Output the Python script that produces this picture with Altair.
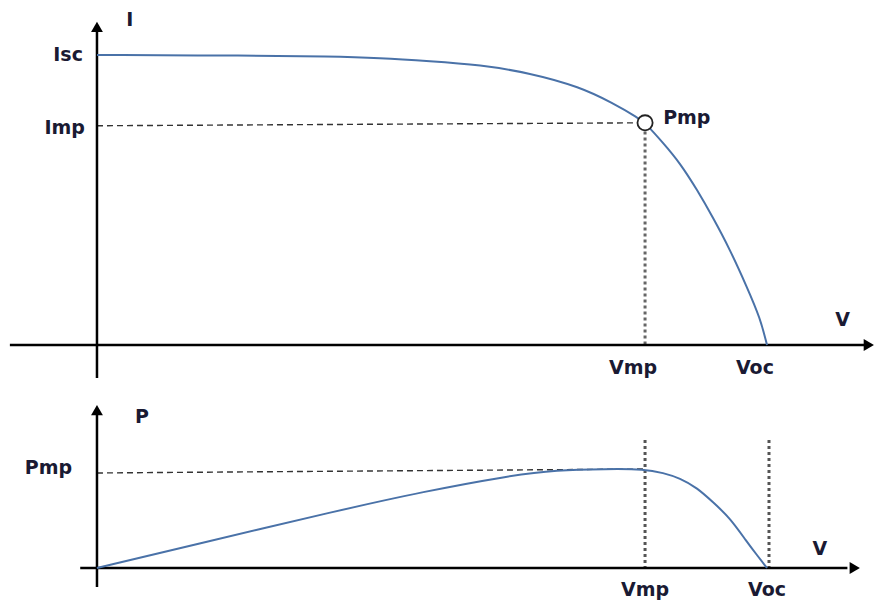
import altair as alt
import pandas as pd

# I-V curve (V normalised to Voc, I normalised to Isc)
iv_v = [0.0, 0.228, 0.348, 0.422, 0.497, 0.572, 0.646, 0.721, 0.770, 0.808, 0.818, 0.845, 0.870, 0.896, 0.919, 0.945, 0.970, 0.990, 1.0]
iv_i = [1.0, 0.998, 0.995, 0.990, 0.979, 0.966, 0.938, 0.890, 0.834, 0.783, 0.766, 0.697, 0.628, 0.534, 0.441, 0.328, 0.200, 0.092, 0.0]

# P-V curve (P normalised to Pmp)
pv_v = [0.0, 0.139, 0.363, 0.487, 0.612, 0.687, 0.760, 0.818, 0.845, 0.870, 0.896, 0.919, 0.945, 0.970, 0.985, 1.0]
pv_p = [0.0, 0.225, 0.586, 0.771, 0.929, 0.990, 1.0, 1.0, 0.960, 0.909, 0.808, 0.667, 0.505, 0.263, 0.131, 0.0]

VMP = 0.818
VOC = 1.0
IMP = 0.766
PMP = 1.0

top_labels = ["I", "Isc", "Imp", "Pmp", "V", "Vmp", "Voc"]
top_lab_v = [0.049, -0.021, -0.018, 0.845, 1.113, 0.80, 0.982]
top_lab_i = [1.121, 1.0, 0.748, 0.783, 0.086, -0.079, -0.079]
top_lab_align = ["center", "right", "right", "left", "center", "center", "center"]

bot_labels = ["P", "Pmp", "V", "Vmp", "Voc"]
bot_lab_v = [0.067, -0.037, 1.079, 0.818, 1.0]
bot_lab_p = [1.525, 1.01, 0.192, -0.222, -0.222]
bot_lab_align = ["center", "right", "center", "center", "center"]

W = 867
XS = alt.Scale(domain=[-0.1328, 1.1612], nice=False, zero=False)
Y1 = alt.Scale(domain=[-0.1655, 1.162], nice=False, zero=False)
Y2 = alt.Scale(domain=[-0.283, 1.768], nice=False, zero=False)

CURVE = "#4a72a8"
TXT = "#1a1a33"
FONT = "DejaVu Sans"


def segs(rows):
    return pd.DataFrame(rows, columns=["x", "y", "x2", "y2"])


def rule(df, ys, color="black", width=2.5, dash=None):
    kw = dict(color=color, strokeWidth=width)
    if dash is not None:
        kw["strokeDash"] = dash
    return alt.Chart(df).mark_rule(**kw).encode(
        x=alt.X("x:Q", scale=XS, axis=None),
        y=alt.Y("y:Q", scale=ys, axis=None),
        x2="x2:Q",
        y2="y2:Q",
    )


def arrow(df, ys, shape):
    return alt.Chart(df).mark_point(shape=shape, filled=True, color="black", size=140, opacity=1).encode(
        x=alt.X("x:Q", scale=XS, axis=None),
        y=alt.Y("y:Q", scale=ys, axis=None),
    )


def labels(names, xs, ys_vals, aligns, ys):
    parts = []
    for a in ["left", "center", "right"]:
        rows = [(n, x, y) for n, x, y, al in zip(names, xs, ys_vals, aligns) if al == a]
        if not rows:
            continue
        df = pd.DataFrame(rows, columns=["t", "x", "y"])
        parts.append(
            alt.Chart(df).mark_text(align=a, baseline="middle", font=FONT, fontSize=19,
                                    fontWeight="bold", color=TXT).encode(
                x=alt.X("x:Q", scale=XS, axis=None),
                y=alt.Y("y:Q", scale=ys, axis=None),
                text="t:N",
            )
        )
    return parts


# ---------------- top panel ----------------
iv_df = pd.DataFrame({"v": iv_v, "i": iv_i})
top_curve = alt.Chart(iv_df).mark_line(color=CURVE, strokeWidth=2, interpolate="basis").encode(
    x=alt.X("v:Q", scale=XS, axis=None),
    y=alt.Y("i:Q", scale=Y1, axis=None),
)
top_axes = rule(segs([(0, -0.114, 0, 1.09), (-0.13, 0, 1.145, 0)]), Y1)
top_arrows = [
    arrow(pd.DataFrame({"x": [0], "y": [1.097]}), Y1, "triangle-up"),
    arrow(pd.DataFrame({"x": [1.152], "y": [0]}), Y1, "triangle-right"),
]
top_dash = rule(segs([(0, IMP - 0.01, VMP - 0.012, IMP)]), Y1, color="#333333", width=1.4, dash=[6, 4])
top_dot = rule(segs([(VMP, IMP - 0.03, VMP, 0)]), Y1, color="#666666", width=3, dash=[3, 3])
pmp_pt = alt.Chart(pd.DataFrame({"v": [VMP], "i": [IMP]})).mark_point(
    shape="circle", filled=True, fill="white", stroke="#222222", strokeWidth=1.8, size=230, opacity=1
).encode(
    x=alt.X("v:Q", scale=XS, axis=None),
    y=alt.Y("i:Q", scale=Y1, axis=None),
)
top = alt.layer(
    top_dash, top_dot, top_axes, *top_arrows, top_curve, pmp_pt,
    *labels(top_labels, top_lab_v, top_lab_i, top_lab_align, Y1)
).properties(width=W, height=385)

# ---------------- bottom panel ----------------
pv_df = pd.DataFrame({"v": pv_v, "p": pv_p})
bot_curve = alt.Chart(pv_df).mark_line(color=CURVE, strokeWidth=2, interpolate="basis").encode(
    x=alt.X("v:Q", scale=XS, axis=None),
    y=alt.Y("p:Q", scale=Y2, axis=None),
)
bot_axes = rule(segs([(0, -0.192, 0, 1.585), (-0.025, 0, 1.12, 0)]), Y2)
bot_arrows = [
    arrow(pd.DataFrame({"x": [0], "y": [1.596]}), Y2, "triangle-up"),
    arrow(pd.DataFrame({"x": [1.131], "y": [0]}), Y2, "triangle-right"),
]
bot_dash = rule(segs([(0, PMP - 0.04, VMP, PMP)]), Y2, color="#333333", width=1.4, dash=[6, 4])
bot_dot = rule(segs([(VMP, 1.293, VMP, 0), (VOC + 0.003, 1.293, VOC + 0.003, 0)]), Y2,
               color="#555555", width=3, dash=[3, 3])
bottom = alt.layer(
    bot_dash, bot_dot, bot_axes, *bot_arrows, bot_curve,
    *labels(bot_labels, bot_lab_v, bot_lab_p, bot_lab_align, Y2)
).properties(width=W, height=203)

chart = alt.vconcat(top, bottom, spacing=0).properties(padding=0).configure_view(stroke=None)

chart.save("out.html", embed_options={"renderer": "svg", "actions": False})
